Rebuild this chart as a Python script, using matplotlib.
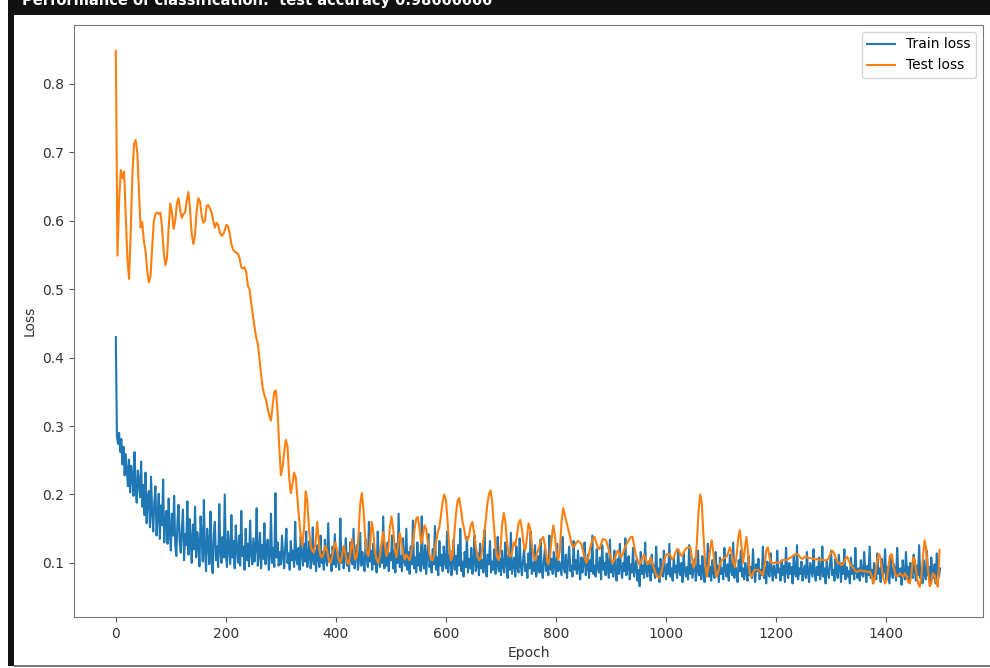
import numpy as np
from matplotlib import pyplot as plt
from matplotlib.patches import Rectangle

# train loss logged every 2 epochs
train_loss = [
    0.430, 0.285, 0.274, 0.290, 0.262, 0.281, 0.244, 0.270, 0.228, 0.259, 0.236, 0.212, 0.251, 0.203, 0.242, 0.226, 0.198, 0.262, 0.210, 0.188, 0.235, 0.219, 0.196, 0.248, 0.182,
    0.214, 0.170, 0.232, 0.158, 0.196, 0.205, 0.152, 0.226, 0.174, 0.146, 0.190, 0.212, 0.140, 0.168, 0.201, 0.135, 0.184, 0.155, 0.222, 0.130, 0.162, 0.176, 0.128, 0.194, 0.150,
    0.118, 0.172, 0.140, 0.198, 0.125, 0.110, 0.160, 0.185, 0.132, 0.115, 0.150, 0.178, 0.104, 0.142, 0.126, 0.190, 0.112, 0.164, 0.136, 0.100, 0.156, 0.120, 0.182, 0.108, 0.145,
    0.128, 0.095, 0.168, 0.138, 0.102, 0.192, 0.118, 0.088, 0.150, 0.130, 0.098, 0.175, 0.112, 0.085, 0.142, 0.160, 0.104, 0.124, 0.094, 0.186, 0.116, 0.100, 0.138, 0.108, 0.200,
    0.112, 0.094, 0.146, 0.122, 0.098, 0.170, 0.108, 0.132, 0.092, 0.155, 0.118, 0.100, 0.140, 0.096, 0.176, 0.110, 0.124, 0.090, 0.150, 0.104, 0.128, 0.095, 0.162, 0.114, 0.098,
    0.136, 0.102, 0.120, 0.180, 0.096, 0.112, 0.144, 0.092, 0.126, 0.106, 0.158, 0.098, 0.118, 0.134, 0.090, 0.110, 0.172, 0.100, 0.122, 0.094, 0.202, 0.108, 0.130, 0.096, 0.116,
    0.098, 0.140, 0.110, 0.092, 0.125, 0.150, 0.100, 0.114, 0.090, 0.132, 0.104, 0.118, 0.094, 0.160, 0.106, 0.098, 0.122, 0.090, 0.138, 0.112, 0.096, 0.128, 0.102, 0.146, 0.094,
    0.110, 0.132, 0.092, 0.104, 0.152, 0.098, 0.118, 0.088, 0.126, 0.108, 0.094, 0.140, 0.100, 0.116, 0.090, 0.134, 0.104, 0.096, 0.158, 0.102, 0.112, 0.088, 0.124, 0.098, 0.142,
    0.094, 0.118, 0.106, 0.090, 0.165, 0.100, 0.122, 0.092, 0.108, 0.136, 0.096, 0.114, 0.088, 0.130, 0.104, 0.098, 0.150, 0.092, 0.110, 0.126, 0.090, 0.104, 0.144, 0.096, 0.116,
    0.100, 0.088, 0.134, 0.108, 0.094, 0.160, 0.102, 0.118, 0.090, 0.128, 0.098, 0.112, 0.086, 0.146, 0.104, 0.094, 0.122, 0.100, 0.168, 0.092, 0.110, 0.096, 0.130, 0.088, 0.114,
    0.104, 0.140, 0.092, 0.118, 0.086, 0.128, 0.100, 0.172, 0.094, 0.110, 0.088, 0.136, 0.102, 0.096, 0.150, 0.090, 0.116, 0.084, 0.124, 0.098, 0.162, 0.092, 0.108, 0.086, 0.130,
    0.096, 0.114, 0.088, 0.168, 0.100, 0.092, 0.126, 0.084, 0.110, 0.142, 0.094, 0.104, 0.086, 0.120, 0.098, 0.154, 0.090, 0.108, 0.082, 0.132, 0.096, 0.112, 0.088, 0.124, 0.100,
    0.092, 0.146, 0.086, 0.104, 0.118, 0.082, 0.098, 0.134, 0.090, 0.110, 0.084, 0.126, 0.096, 0.150, 0.088, 0.102, 0.080, 0.116, 0.094, 0.138, 0.086, 0.106, 0.092, 0.122, 0.084,
    0.100, 0.140, 0.088, 0.096, 0.114, 0.082, 0.128, 0.092, 0.104, 0.086, 0.148, 0.094, 0.080, 0.112, 0.098, 0.132, 0.086, 0.102, 0.090, 0.120, 0.084, 0.096, 0.138, 0.088, 0.106,
    0.082, 0.118, 0.094, 0.086, 0.130, 0.100, 0.078, 0.112, 0.090, 0.144, 0.084, 0.098, 0.108, 0.080, 0.124, 0.092, 0.086, 0.136, 0.096, 0.082, 0.104, 0.120, 0.088, 0.098, 0.078,
    0.114, 0.092, 0.146, 0.084, 0.100, 0.088, 0.126, 0.080, 0.096, 0.110, 0.086, 0.134, 0.092, 0.078, 0.104, 0.122, 0.088, 0.098, 0.082, 0.140, 0.090, 0.106, 0.084, 0.116, 0.096,
    0.080, 0.128, 0.088, 0.102, 0.092, 0.082, 0.138, 0.094, 0.086, 0.112, 0.078, 0.100, 0.124, 0.088, 0.096, 0.080, 0.132, 0.090, 0.104, 0.084, 0.118, 0.092, 0.076, 0.108, 0.086,
    0.098, 0.130, 0.082, 0.094, 0.112, 0.078, 0.104, 0.088, 0.140, 0.084, 0.096, 0.080, 0.120, 0.092, 0.086, 0.108, 0.076, 0.126, 0.090, 0.100, 0.082, 0.114, 0.094, 0.078, 0.134,
    0.086, 0.096, 0.080, 0.118, 0.090, 0.074, 0.106, 0.084, 0.128, 0.092, 0.078, 0.100, 0.088, 0.136, 0.082, 0.094, 0.110, 0.076, 0.098, 0.086, 0.122, 0.080, 0.092, 0.104, 0.074,
    0.090, 0.066, 0.116, 0.084, 0.096, 0.078, 0.130, 0.088, 0.080, 0.102, 0.092, 0.074, 0.112, 0.086, 0.096, 0.078, 0.124, 0.084, 0.092, 0.072, 0.106, 0.088, 0.080, 0.118, 0.090,
    0.076, 0.098, 0.084, 0.128, 0.080, 0.092, 0.074, 0.108, 0.086, 0.096, 0.078, 0.120, 0.088, 0.082, 0.100, 0.072, 0.114, 0.090, 0.080, 0.094, 0.076, 0.126, 0.084, 0.098, 0.078,
    0.092, 0.106, 0.074, 0.088, 0.118, 0.082, 0.096, 0.076, 0.110, 0.086, 0.072, 0.100, 0.090, 0.128, 0.080, 0.094, 0.074, 0.104, 0.086, 0.078, 0.116, 0.088, 0.096, 0.072, 0.108,
    0.084, 0.092, 0.076, 0.122, 0.088, 0.080, 0.098, 0.074, 0.112, 0.090, 0.082, 0.130, 0.078, 0.094, 0.086, 0.072, 0.104, 0.088, 0.118, 0.080, 0.092, 0.076, 0.100, 0.086, 0.074,
    0.110, 0.082, 0.094, 0.078, 0.120, 0.086, 0.072, 0.098, 0.088, 0.106, 0.076, 0.090, 0.082, 0.124, 0.078, 0.094, 0.070, 0.102, 0.086, 0.080, 0.114, 0.090, 0.074, 0.096, 0.084,
    0.078, 0.118, 0.086, 0.092, 0.074, 0.104, 0.082, 0.096, 0.072, 0.122, 0.088, 0.078, 0.100, 0.084, 0.094, 0.070, 0.110, 0.086, 0.080, 0.126, 0.076, 0.092, 0.084, 0.102, 0.074,
    0.088, 0.096, 0.078, 0.116, 0.084, 0.072, 0.100, 0.090, 0.080, 0.120, 0.086, 0.074, 0.094, 0.082, 0.108, 0.076, 0.088, 0.124, 0.080, 0.092, 0.070, 0.104, 0.086, 0.078, 0.098,
    0.118, 0.082, 0.090, 0.074, 0.106, 0.086, 0.078, 0.112, 0.092, 0.072, 0.100, 0.084, 0.120, 0.076, 0.094, 0.080, 0.088, 0.070, 0.108, 0.084, 0.096, 0.076, 0.122, 0.086, 0.078,
    0.092, 0.074, 0.104, 0.084, 0.080, 0.116, 0.088, 0.072, 0.096, 0.082, 0.124, 0.078, 0.090, 0.070, 0.100, 0.086, 0.076, 0.114, 0.084, 0.092, 0.072, 0.106, 0.080, 0.088, 0.120,
    0.076, 0.094, 0.082, 0.070, 0.110, 0.086, 0.078, 0.098, 0.090, 0.074, 0.122, 0.084, 0.080, 0.092, 0.068, 0.104, 0.086, 0.076, 0.116, 0.082, 0.094, 0.072, 0.100, 0.084, 0.078,
    0.112, 0.088, 0.074, 0.096, 0.082, 0.126, 0.078, 0.090, 0.070, 0.104, 0.086, 0.076, 0.118, 0.082, 0.094, 0.072, 0.108, 0.084, 0.078, 0.098, 0.070, 0.114, 0.086, 0.080, 0.092,
]

# test loss logged every 3 epochs
test_loss = [
    0.848, 0.549, 0.630, 0.674, 0.662, 0.672, 0.610, 0.545, 0.515, 0.580, 0.665, 0.712, 0.718, 0.700, 0.645, 0.590, 0.598, 0.570, 0.556, 0.528,
    0.510, 0.518, 0.560, 0.598, 0.610, 0.612, 0.610, 0.612, 0.590, 0.555, 0.535, 0.545, 0.590, 0.625, 0.612, 0.588, 0.600, 0.625, 0.633, 0.615,
    0.604, 0.610, 0.612, 0.630, 0.642, 0.615, 0.580, 0.566, 0.580, 0.615, 0.633, 0.628, 0.608, 0.597, 0.600, 0.622, 0.623, 0.618, 0.612, 0.600,
    0.590, 0.597, 0.594, 0.583, 0.578, 0.580, 0.586, 0.594, 0.592, 0.580, 0.566, 0.558, 0.555, 0.553, 0.552, 0.545, 0.532, 0.530, 0.532, 0.525,
    0.505, 0.500, 0.480, 0.462, 0.445, 0.430, 0.420, 0.400, 0.375, 0.355, 0.345, 0.338, 0.325, 0.315, 0.308, 0.330, 0.350, 0.352, 0.320, 0.270,
    0.228, 0.240, 0.262, 0.280, 0.270, 0.225, 0.202, 0.215, 0.232, 0.225, 0.195, 0.165, 0.140, 0.125, 0.150, 0.205, 0.190, 0.150, 0.125, 0.118,
    0.115, 0.130, 0.160, 0.130, 0.110, 0.108, 0.115, 0.125, 0.118, 0.105, 0.100, 0.108, 0.122, 0.130, 0.118, 0.105, 0.100, 0.110, 0.125, 0.115,
    0.102, 0.098, 0.112, 0.135, 0.120, 0.105, 0.110, 0.140, 0.185, 0.202, 0.180, 0.140, 0.115, 0.110, 0.125, 0.160, 0.145, 0.115, 0.105, 0.100,
    0.110, 0.130, 0.145, 0.125, 0.110, 0.118, 0.150, 0.168, 0.150, 0.120, 0.108, 0.125, 0.144, 0.130, 0.115, 0.105, 0.112, 0.108, 0.104, 0.115,
    0.130, 0.150, 0.165, 0.167, 0.150, 0.128, 0.140, 0.155, 0.150, 0.130, 0.112, 0.105, 0.104, 0.115, 0.130, 0.145, 0.152, 0.170, 0.190, 0.200,
    0.192, 0.160, 0.125, 0.104, 0.110, 0.140, 0.170, 0.190, 0.195, 0.180, 0.160, 0.150, 0.135, 0.133, 0.140, 0.155, 0.160, 0.145, 0.125, 0.112,
    0.104, 0.106, 0.120, 0.140, 0.160, 0.185, 0.200, 0.206, 0.190, 0.155, 0.125, 0.108, 0.104, 0.120, 0.155, 0.173, 0.160, 0.130, 0.112, 0.109,
    0.115, 0.130, 0.125, 0.140, 0.158, 0.163, 0.150, 0.128, 0.118, 0.135, 0.158, 0.150, 0.128, 0.110, 0.104, 0.112, 0.120, 0.128, 0.135, 0.138,
    0.125, 0.108, 0.098, 0.110, 0.135, 0.155, 0.140, 0.115, 0.104, 0.118, 0.160, 0.180, 0.170, 0.160, 0.150, 0.140, 0.128, 0.123, 0.125, 0.130,
    0.132, 0.130, 0.128, 0.118, 0.108, 0.100, 0.105, 0.118, 0.128, 0.136, 0.138, 0.130, 0.122, 0.120, 0.128, 0.135, 0.134, 0.133, 0.125, 0.115,
    0.106, 0.100, 0.104, 0.112, 0.118, 0.115, 0.108, 0.112, 0.120, 0.126, 0.130, 0.134, 0.138, 0.138, 0.125, 0.112, 0.104, 0.098, 0.100, 0.108,
    0.112, 0.105, 0.098, 0.100, 0.108, 0.100, 0.092, 0.085, 0.080, 0.078, 0.082, 0.092, 0.102, 0.110, 0.113, 0.113, 0.110, 0.105, 0.108, 0.115,
    0.120, 0.118, 0.112, 0.110, 0.115, 0.120, 0.122, 0.123, 0.123, 0.108, 0.093, 0.100, 0.130, 0.175, 0.200, 0.187, 0.140, 0.100, 0.080, 0.095,
    0.120, 0.133, 0.115, 0.092, 0.080, 0.088, 0.098, 0.104, 0.106, 0.108, 0.109, 0.115, 0.123, 0.115, 0.100, 0.094, 0.110, 0.135, 0.148, 0.125,
    0.100, 0.120, 0.138, 0.115, 0.085, 0.080, 0.085, 0.090, 0.090, 0.090, 0.088, 0.085, 0.082, 0.095, 0.118, 0.123, 0.108, 0.100, 0.100, 0.100,
    0.101, 0.100, 0.100, 0.102, 0.104, 0.105, 0.104, 0.105, 0.107, 0.108, 0.110, 0.112, 0.113, 0.113, 0.110, 0.107, 0.106, 0.108, 0.110, 0.108,
    0.107, 0.107, 0.106, 0.106, 0.105, 0.106, 0.104, 0.104, 0.105, 0.104, 0.104, 0.104, 0.108, 0.114, 0.118, 0.115, 0.108, 0.102, 0.100, 0.098,
    0.097, 0.100, 0.106, 0.109, 0.104, 0.098, 0.095, 0.092, 0.088, 0.087, 0.088, 0.089, 0.089, 0.088, 0.088, 0.087, 0.087, 0.087, 0.080, 0.070,
    0.082, 0.100, 0.113, 0.110, 0.092, 0.078, 0.070, 0.075, 0.095, 0.110, 0.113, 0.098, 0.085, 0.080, 0.082, 0.085, 0.082, 0.080, 0.085, 0.080,
    0.072, 0.070, 0.085, 0.108, 0.105, 0.085, 0.070, 0.065, 0.080, 0.110, 0.133, 0.118, 0.090, 0.066, 0.070, 0.085, 0.082, 0.072, 0.065, 0.119,
]

train_epochs = np.arange(len(train_loss)) * 2
test_epochs = np.arange(len(test_loss)) * 3

fig = plt.figure(figsize=(9.9, 6.68), dpi=100)
ax = fig.add_axes([74 / 990, 51 / 668, 909 / 990, 592 / 668])

ax.plot(train_epochs, train_loss, color='#1f77b4', lw=1.5, label="Train loss")
ax.plot(test_epochs, test_loss, color='#ff7f0e', lw=1.5, label="Test loss")

ax.set_xlim(-76, 1576)
ax.set_ylim(0.021, 0.886)
ax.set_xticks([0, 200, 400, 600, 800, 1000, 1200, 1400])
ax.set_yticks([0.1, 0.2, 0.3, 0.4, 0.5, 0.6, 0.7, 0.8])
ax.set_xlabel("Epoch", color='#333333')
ax.set_ylabel("Loss", color='#333333')
ax.tick_params(colors='#555555', labelcolor='#333333')
for sp in ax.spines.values():
    sp.set_color('#777777')
ax.legend(loc='upper right')

# notebook cell frame around the plot
fig.add_artist(Rectangle((8 / 990, 2 / 668), 6 / 990, 1, transform=fig.transFigure,
                         facecolor='#111111', edgecolor='none'))
fig.add_artist(Rectangle((8 / 990, 1 - 15 / 668), 1, 15 / 668, transform=fig.transFigure,
                         facecolor='#111111', edgecolor='none'))
fig.add_artist(Rectangle((14 / 990, 1 / 668), 1, 2 / 668, transform=fig.transFigure,
                         facecolor='#777777', edgecolor='none'))
fig.text(22 / 990, 1 - 5 / 668, "Performance of classification:  test accuracy 0.98666666",
         color='white', fontsize=10.5, fontweight='bold', va='baseline', ha='left')

plt.savefig("out.png", dpi=100)
